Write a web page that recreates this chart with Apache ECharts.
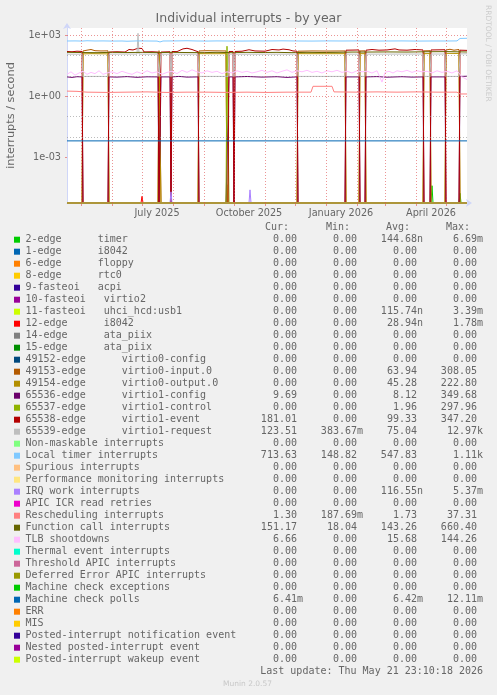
<!DOCTYPE html>
<html><head><meta charset="utf-8">
<script src="https://cdn.jsdelivr.net/npm/echarts@6/dist/echarts.min.js"></script>
<style>html,body{margin:0;padding:0;background:#F0F0F0}#c{width:497px;height:695px}</style>
</head><body><div id="c"></div>
<script>
// ---- DATA (x = day offset from start of the 400-day window, y = interrupts/s; 0 = none) ----
const TITLE = 'Individual interrupts - by year';
const Y_LABEL = 'interrupts / second';
const LAST_UPDATE = 'Last update: Thu May 21 23:10:18 2026';
const X_LABELS = ['July 2025', 'October 2025', 'January 2026', 'April 2026'];
const X_LABEL_MONTHS = [[2025, 6], [2025, 9], [2026, 0], [2026, 3]];
const Y_TICKS = [1e-3, 1, 1e3];

const names = ['2-edge      timer','1-edge      i8042','6-edge      floppy','8-edge      rtc0','9-fasteoi   acpi',
 '10-fasteoi   virtio2','11-fasteoi   uhci_hcd:usb1','12-edge      i8042','14-edge      ata_piix','15-edge      ata_piix',
 '49152-edge      virtio0-config','49153-edge      virtio0-input.0','49154-edge      virtio0-output.0',
 '65536-edge      virtio1-config','65537-edge      virtio1-control','65538-edge      virtio1-event','65539-edge      virtio1-request',
 'Non-maskable interrupts','Local timer interrupts','Spurious interrupts','Performance monitoring interrupts','IRQ work interrupts',
 'APIC ICR read retries','Rescheduling interrupts','Function call interrupts','TLB shootdowns','Thermal event interrupts',
 'Threshold APIC interrupts','Deferred Error APIC interrupts','Machine check exceptions','Machine check polls','ERR','MIS',
 'Posted-interrupt notification event','Nested posted-interrupt event','Posted-interrupt wakeup event'];
const colors = ['#00CC00','#0066B3','#FF8000','#FFCC00','#330099','#990099','#CCFF00','#FF0000','#808080','#008F00',
 '#00487D','#B35A00','#B38F00','#6B006B','#8FB300','#B30000','#BEBEBE','#80FF80','#80C9FF','#FFC080','#FFE680','#AA80FF',
 '#EE00CC','#FF8080','#666600','#FFBFFF','#00FFCC','#CC6699','#999900','#00CC00','#0066B3','#FF8000','#FFCC00',
 '#330099','#990099','#CCFF00'];
const curVals = ['0.00','0.00','0.00','0.00','0.00','0.00','0.00','0.00','0.00','0.00','0.00','0.00','0.00','9.69','0.00','181.01','123.51',
 '0.00','713.63','0.00','0.00','0.00','0.00','1.30','151.17','6.66','0.00','0.00','0.00','0.00','6.41m','0.00','0.00','0.00','0.00','0.00'];
const minVals = ['0.00','0.00','0.00','0.00','0.00','0.00','0.00','0.00','0.00','0.00','0.00','0.00','0.00','0.00','0.00','0.00','383.67m',
 '0.00','148.82','0.00','0.00','0.00','0.00','187.69m','18.04','0.00','0.00','0.00','0.00','0.00','0.00','0.00','0.00','0.00','0.00','0.00'];
const avgVals = ['144.68n','0.00','0.00','0.00','0.00','0.00','115.74n','28.94n','0.00','0.00','0.00','63.94','45.28','8.12','1.96','99.33','75.04',
 '0.00','547.83','0.00','0.00','116.55n','0.00','1.73','143.26','15.68','0.00','0.00','0.00','0.00','6.42m','0.00','0.00','0.00','0.00','0.00'];
const maxVals = ['6.69m','0.00','0.00','0.00','0.00','0.00','3.39m','1.78m','0.00','0.00','0.00','308.05','222.80','349.68','297.96','347.20','12.97k',
 '0.00','1.11k','0.00','0.00','5.37m','0.00','37.31','660.40','144.26','0.00','0.00','0.00','0.00','12.11m','0.00','0.00','0.00','0.00','0.00'];

const ZERO = [[0, 0], [400, 0]];
const timer2 = [[0,0],[364,0],[365,4e-5],[366,0],[392,0],[393,1.7e-5],[394,0],[400,0]];
const usb11 = [[0,0],[159,0],[160,4.5e-5],[161,0],[400,0]];
const i8042_12 = [[0,0],[74,0],[75,1.2e-5],[76,0],[400,0]];
const virtio0Input = [[0,0],[15,0],[16,170],[20,185],[24,200],[28,175],[34,170],[41,172],[42,0],[91,0],[92,175],[93,170],[94,0],
 [131,0],[132,170],[140,175],[150,172],[159,170],[160,0],[230,0],[231,165],[245,170],[260,168],[278,170],[279,0],[292,0],[293,170],[298,172],[299,0],
 [356,0],[357,172],[363,175],[364,0],[378,0],[379,190],[383,205],[387,185],[392,200],[393,0],[400,0]];
const virtio0Output = [[0,0],[15,0],[16,122],[25,125],[41,122],[42,0],[91,0],[92,122],[93,120],[94,0],
 [131,0],[132,125],[145,124],[159,125],[160,0],[230,0],[231,125],[255,124],[278,125],[279,0],[292,0],[293,125],[298,125],[299,0],
 [356,0],[357,125],[363,126],[364,0],[378,0],[379,130],[392,128],[393,0],[400,0]];
const virtio1Config = [[0,9],[5,8.5],[10,9.2],[15,9],[16,0],[41,0],[42,9],[50,8.8],[60,9.3],[70,8.6],[80,9.1],[91,9],[92,0],[93,0],[94,9],[103,9],
 [104,0],[105,9],[112,9.5],[120,8.8],[131,9],[132,0],[159,0],[162,9],[166,9],[167,0],[168,9],[180,9.4],[195,8.8],[210,9.2],[220,8.5],[230,9],
 [231,0],[278,0],[279,9],[292,9],[293,0],[298,0],[299,9],[310,9.3],[320,8.7],[335,9.2],[345,8.8],[356,9],[357,0],[363,0],[364,9],[378,9],
 [379,0],[392,0],[393,9.5],[400,9.69]];
const virtio1Control = [[0,0],[159,0],[160,290],[161,260],[162,0],[400,0]];
const virtio1Event = [[0,160],[5,155],[10,165],[15,160],[16,0],[41,0],[42,150],[50,155],[58,150],[62,200],[66,190],[68,152],[71,230],[75,225],[77,152],
 [85,155],[91,150],[92,0],[93,0],[94,150],[103,155],[104,0],[105,160],[110,158],[116,215],[120,230],[125,200],[127,160],[131,155],[132,0],[161,0],
 [162,160],[166,160],[167,0],[168,160],[175,165],[182,195],[188,170],[198,165],[205,200],[212,190],[216,210],[222,195],[226,170],[230,165],
 [231,0],[278,0],[279,185],[292,190],[293,0],[298,0],[299,185],[305,200],[312,185],[320,190],[328,215],[332,190],[340,185],[348,200],[356,190],
 [357,0],[363,0],[364,190],[378,195],[379,0],[392,0],[393,185],[400,181]];
const virtio1Request = [[0,118],[15,118],[16,9.5],[41,9.5],[42,118],[60,120],[70,118],[71,1250],[72,118],[91,118],[92,9.5],[93,9.5],[94,118],[103,118],
 [104,9.5],[105,118],[131,118],[132,9.5],[161,9.5],[162,118],[166,118],[167,9.5],[168,118],[230,118],[231,9.5],[278,9.5],[279,118],[292,118],
 [293,9.5],[298,9.5],[299,118],[356,120],[357,9.5],[363,9.5],[364,120],[378,120],[379,9.5],[392,9.5],[393,122],[400,123.5]];
const localTimer = [[0,525],[8,530],[15,520],[20,540],[28,525],[36,530],[45,520],[55,525],[60,510],[70,530],[80,525],[90,520],[93,470],[96,525],
 [110,530],[120,540],[130,525],[140,520],[150,530],[160,525],[175,520],[190,530],[200,525],[215,535],[230,525],[245,520],[260,530],
 [275,525],[290,530],[305,520],[320,525],[335,530],[350,520],[365,525],[380,525],[390,530],[393,700],[400,713]];
const irqWork = [[0,0],[103,0],[104,2e-5],[105,0],[182,0],[183,2.5e-5],[184,0],[400,0]];
const resched = [[0,1.8],[10,1.75],[20,1.6],[40,1.55],[60,1.6],[80,1.65],[100,1.55],[120,1.6],[140,1.6],[160,1.55],[180,1.6],[200,1.55],
 [220,1.6],[240,1.6],[244,1.6],[246,3.1],[265,3.1],[267,1.65],[290,1.6],[310,1.65],[330,1.6],[350,1.65],[370,1.6],[390,1.6],[393,1.3],[400,1.3]];
const funcCall = [[0,145],[15,142],[30,140],[45,145],[60,142],[75,145],[90,140],[105,145],[120,142],[135,140],[150,145],[165,140],[180,145],
 [195,142],[210,145],[225,140],[240,145],[255,142],[270,145],[285,150],[300,150],[320,152],[340,150],[360,155],[380,158],[400,151]];
const tlb = [[0,12],[4,16],[8,11],[12,14],[16,17],[20,12],[24,15],[28,13],[32,18],[36,12],[40,14],[45,16],[50,13],[55,17],[60,14],[65,12],
 [70,16],[75,13],[80,18],[85,14],[90,16],[95,12],[100,15],[105,17],[110,13],[115,19],[120,15],[125,20],[130,16],[135,14],[140,18],
 [145,15],[150,17],[155,13],[160,16],[165,14],[170,18],[175,15],[180,17],[185,14],[190,16],[195,19],[200,15],[205,18],[210,14],
 [215,17],[220,20],[225,15],[230,18],[235,16],[240,19],[245,15],[250,17],[255,14],[260,18],[265,16],[270,19],[275,15],[280,17],
 [285,14],[290,18],[295,16],[300,17],[305,14],[310,18],[315,5],[318,15],[322,17],[326,14],[330,18],[335,16],[340,19],[345,15],
 [350,18],[355,16],[360,17],[365,14],[370,18],[375,15],[380,17],[385,14],[390,18],[395,9],[400,6.66]];
const mcePolls = [[0,6.42e-3],[400,6.42e-3]];

const seriesData = [timer2, ZERO, ZERO, ZERO, ZERO, ZERO, usb11, i8042_12, ZERO, ZERO, ZERO, virtio0Input, virtio0Output,
 virtio1Config, virtio1Control, virtio1Event, virtio1Request, ZERO, localTimer, ZERO, ZERO, irqWork, ZERO, resched,
 funcCall, tlb, ZERO, ZERO, ZERO, ZERO, mcePolls, ZERO, ZERO, ZERO, ZERO, ZERO];

// ---- CHART ----
const YMIN = 5.65e-6, YMAX = 2286;
const DAY = 86400000;
const T0 = Date.UTC(2025, 3, 16, 23, 10, 18);
const dayOf = (y, m, d) => (Date.UTC(y, m, d) - T0) / DAY;
const monthStarts = [];
for (let y = 2025, m = 4; y < 2026 || m <= 4; m++) { if (m > 11) { m = 0; y++; } monthStarts.push(dayOf(y, m, 1)); if (y === 2026 && m === 4) break; }
const labelDays = X_LABEL_MONTHS.map(([y, m]) => dayOf(y, m, 16));

const L = 67, T = 28, W = 400, H = 175;
const mono = '"DejaVu Sans Mono", monospace';
const sans = '"DejaVu Sans", sans-serif';
const FONT = '#666666';

const series = seriesData.map((pts, i) => ({
  type: 'line', name: names[i], z: 3, silent: true, showSymbol: false, clip: false, animation: false,
  lineStyle: { color: colors[i], width: 1 }, itemStyle: { color: colors[i] },
  data: pts.map(([d, v]) => [d, v > 0 ? v : YMIN])
}));
const majorY = Y_TICKS, minorY = [1e-5, 1e-4, 1e-2, 1e-1, 1e1, 1e2];
series.unshift({
  type: 'line', z: 1, silent: true, animation: false, showSymbol: false,
  data: [[0, YMIN]], lineStyle: { opacity: 0 },
  markLine: {
    silent: true, symbol: 'none', animation: false, label: { show: false },
    data: [
      ...minorY.map(v => ({ yAxis: v, lineStyle: { color: 'rgba(143,143,143,0.6)', type: [1, 2], width: 1 } })),
      ...majorY.map(v => ({ yAxis: v, lineStyle: { color: 'rgba(222,79,79,0.6)', type: [1, 2], width: 1 } })),
      ...monthStarts.map(d => ({ xAxis: d, lineStyle: { color: 'rgba(222,79,79,0.6)', type: [1, 2], width: 1 } }))
    ]
  }
});

const graphic = [];
graphic.push({ type: 'text', x: 248.5, y: 19, style: { text: TITLE, font: '12.5px ' + sans, fill: FONT, textAlign: 'center', textVerticalAlign: 'middle' } });
graphic.push({ type: 'text', x: 11, y: 115.5, rotation: Math.PI / 2, style: { text: Y_LABEL, font: '11.3px ' + sans, fill: FONT, textAlign: 'center', textVerticalAlign: 'middle' } });
graphic.push({ type: 'text', x: 487.5, y: 5, rotation: -Math.PI / 2, style: { text: 'RRDTOOL / TOBI OETIKER', font: '7.5px ' + sans, fill: '#CCCCCC', textAlign: 'left', textVerticalAlign: 'middle' } });
const ROW0 = 239.7, RH = 12;
graphic.push(...[['Cur:', 289], ['Min:', 350], ['Avg:', 410], ['Max:', 470]].map(([t, x]) => ({ type: 'text', x, y: 227.7, style: { text: t, font: '10px ' + mono, fill: FONT, textAlign: 'right', textVerticalAlign: 'middle' } })));
const colRight = [303, 363, 423, 483];
const fmt = s => /[0-9]$/.test(s) ? s + ' ' : s;
names.forEach((n, i) => {
  const y = ROW0 + i * RH;
  graphic.push({ type: 'rect', shape: { x: 14, y: y - 3, width: 6, height: 6 }, style: { fill: colors[i] } });
  graphic.push({ type: 'text', x: 25.5, y, style: { text: n, font: '10px ' + mono, fill: FONT, textAlign: 'left', textVerticalAlign: 'middle' } });
  [curVals, minVals, avgVals, maxVals].forEach((arr, c) => {
    graphic.push({ type: 'text', x: colRight[c], y, style: { text: fmt(arr[i]), font: '10px ' + mono, fill: FONT, textAlign: 'right', textVerticalAlign: 'middle' } });
  });
});
graphic.push({ type: 'text', x: 483, y: 671.5, style: { text: LAST_UPDATE, font: '10px ' + mono, fill: FONT, textAlign: 'right', textVerticalAlign: 'middle' } });
graphic.push({ type: 'text', x: 247.5, y: 684, style: { text: 'Munin 2.0.57', font: '7.5px ' + sans, fill: '#C8C8C8', textAlign: 'center', textVerticalAlign: 'middle' } });

const chart = echarts.init(document.getElementById('c'), null, { renderer: 'canvas' });
chart.setOption({
  backgroundColor: '#F0F0F0', animation: false,
  grid: { left: L, top: T, width: W, height: H, show: true, backgroundColor: '#FFFFFF', borderWidth: 0 },
  xAxis: {
    type: 'value', min: 0, max: 400,
    axisLine: { show: true, lineStyle: { color: '#CFD6F8', width: 1 }, symbol: ['none', 'arrow'], symbolSize: [6, 6], symbolOffset: [0, 5] },
    axisTick: { show: true, customValues: monthStarts, length: 3, inside: false, lineStyle: { color: 'rgba(222,79,79,0.6)' } },
    axisLabel: { show: true, customValues: labelDays, formatter: v => { const i = labelDays.findIndex(d => Math.abs(d - v) < 0.01); return i >= 0 ? X_LABELS[i] : ''; },
      color: FONT, fontFamily: sans, fontSize: 9.7, margin: 5 },
    splitLine: { show: false }
  },
  yAxis: {
    type: 'log', logBase: 10, min: YMIN, max: YMAX,
    axisLine: { show: true, lineStyle: { color: '#CFD6F8', width: 1 }, symbol: ['none', 'arrow'], symbolSize: [6, 6], symbolOffset: [0, 5] },
    axisTick: { show: true, customValues: Y_TICKS, length: 2, lineStyle: { color: 'rgba(222,79,79,0.6)' } },
    axisLabel: { show: true, customValues: Y_TICKS, formatter: v => { const e = Math.round(Math.log10(v)); return '1e' + (e < 0 ? '-' : '+') + String(Math.abs(e)).padStart(2, '0'); },
      color: FONT, fontFamily: sans, fontSize: 9.7, margin: 6 },
    splitLine: { show: false }
  },
  graphic,
  series
});
</script></body></html>
